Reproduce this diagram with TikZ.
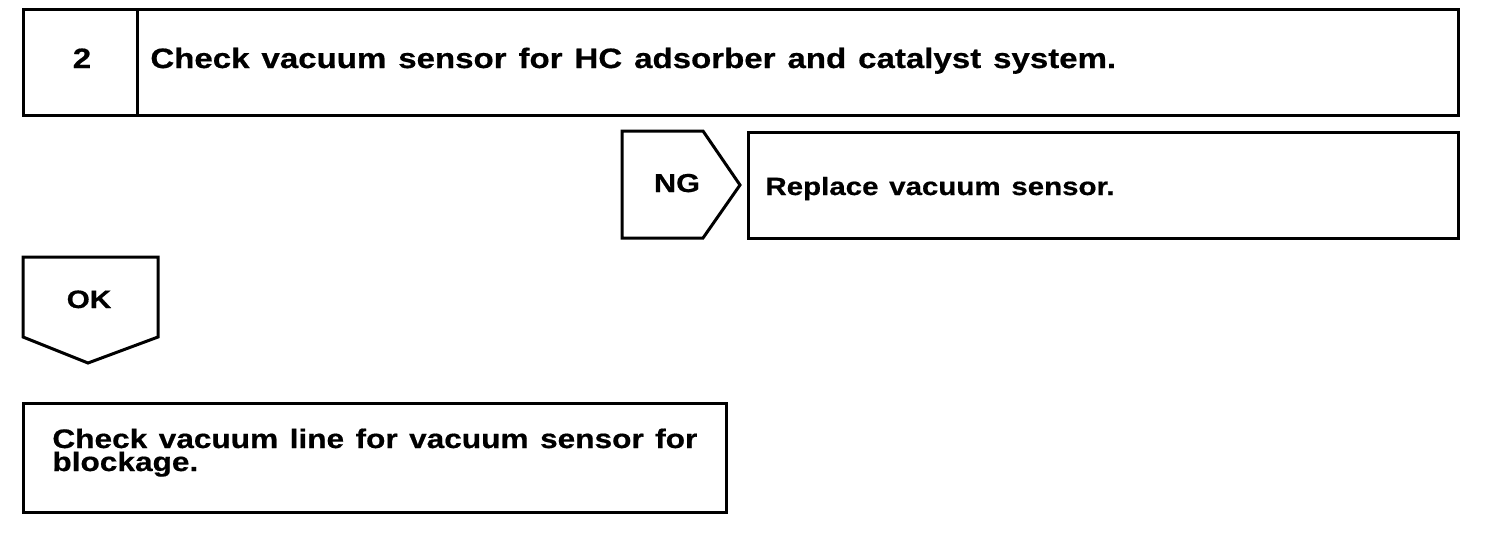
\documentclass[tikz,border=0pt]{standalone}
\usepackage{fontspec}
\setmainfont{Liberation Sans}[FakeStretch=1.18,WordSpace=1.3,FakeBold=0.6]
\begin{document}
\begin{tikzpicture}[x=0.5pt,y=-0.5pt,
  box/.style={draw, line width=1.5pt, inner sep=0pt, rectangle},
  lbl/.style={inner sep=0pt, font=\fontsize{14}{11}\selectfont\bfseries},
  tag/.style={draw, line width=1.5pt, line join=miter}]
\useasboundingbox (0,0) rectangle (1504,532);
% top step box
\node[box, minimum width=717.5pt, minimum height=53pt] (top) at (740.5,62) {};
\coordinate (divT) at (137,9);
\coordinate (divB) at (137,115);
\draw[line width=1.5pt] (divT) -- (divB);
\node[lbl, anchor=base] (num) at (82,68) {2};
\node[lbl, anchor=base west] (ttl) at (150,68) {Check vacuum sensor for HC adsorber and catalyst system.};
% NG tag
\coordinate (ng1) at (622,131);
\coordinate (ng2) at (703,131);
\coordinate (ng3) at (740,185);
\coordinate (ng4) at (703,238);
\coordinate (ng5) at (622,238);
\draw[tag] (ng1) -- (ng2) -- (ng3) -- (ng4) -- (ng5) -- cycle;
\node[lbl, font=\fontsize{13}{11}\selectfont\bfseries, anchor=base] (ng) at (677,192) {NG};
% replace box
\node[box, minimum width=355pt, minimum height=53pt] (rep) at (1103,185) {};
\node[lbl, font=\fontsize{12.5}{11}\selectfont\bfseries, anchor=base west] (reptxt) at (765,195) {Replace vacuum sensor.};
% OK tag
\coordinate (ok1) at (23,257);
\coordinate (ok2) at (158,257);
\coordinate (ok3) at (158,337);
\coordinate (ok4) at (88,363);
\coordinate (ok5) at (23,337);
\draw[tag] (ok1) -- (ok2) -- (ok3) -- (ok4) -- (ok5) -- cycle;
\node[lbl, font=\fontsize{12.6}{11}\selectfont\bfseries, anchor=base] (ok) at (89,308) {OK};
% bottom box
\node[box, minimum width=351.5pt, minimum height=54.5pt] (chk) at (374.5,457.5) {};
\node[lbl, font=\fontsize{13.4}{11.5}\selectfont\bfseries, anchor=base west, align=left] (chktxt) at (52,471) {Check vacuum line for vacuum sensor for\\blockage.};
\end{tikzpicture}
\end{document}
